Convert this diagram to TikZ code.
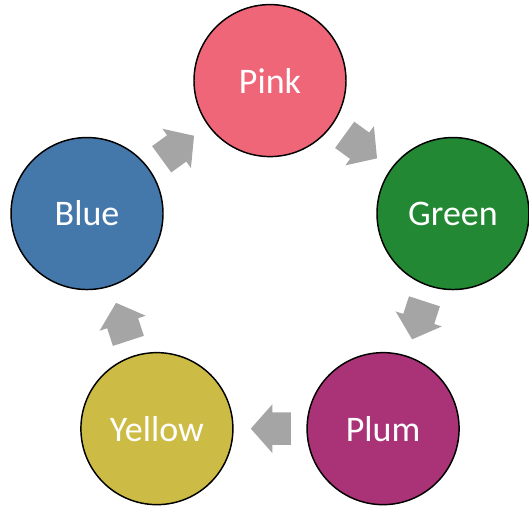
\documentclass[tikz,border=0pt]{standalone}
\usepackage{fontspec}
\setmainfont{Carlito}
\usepackage{tikz}
\usetikzlibrary{shapes.arrows, positioning, calc}
\definecolor{tolpink}{HTML}{EE6677}
\definecolor{tolgreen}{HTML}{228833}
\definecolor{tolplum}{HTML}{AA3377}
\definecolor{tolyellow}{HTML}{CCBB44}
\definecolor{tolblue}{HTML}{4477AA}
\definecolor{arrowgray}{HTML}{A5A5A5}
\tikzset{
  colourdot/.style={circle, draw=black, line width=1.1pt, minimum size=114pt,
    inner sep=0pt, text=white, font=\fontsize{27}{32}\selectfont},
  cyclearrow/.style={single arrow, fill=arrowgray, draw=none,
    inner xsep=0pt, inner ysep=12pt, minimum height=30pt,
    single arrow head extend=6pt, single arrow tip angle=97},
}

\begin{document}
\begin{tikzpicture}[x=0.75pt, y=0.75pt]
    \useasboundingbox (0,0) rectangle (529,509);
    \coordinate (mid) at (270,236);
    % Colour circles round the pentagon
    \foreach \name/\col/\ang in {Pink/tolpink/90, Green/tolgreen/18,
        Plum/tolplum/-54, Yellow/tolyellow/-126, Blue/tolblue/-198} {
      \node[colourdot, fill=\col] (\name) at ($(mid)+(\ang:192.4)$) {\name};
    }
    % Arrows between neighbours, clockwise
    \foreach \a/\b/\ang in {Pink/Green/54, Green/Plum/-18, Plum/Yellow/-90,
        Yellow/Blue/-162, Blue/Pink/126} {
      \node[cyclearrow, rotate=\ang-90] (\a-\b)
        at ($(\a)!0.5!(\b)+(\ang+90:8)$) {};
    }
\end{tikzpicture}
\end{document}
